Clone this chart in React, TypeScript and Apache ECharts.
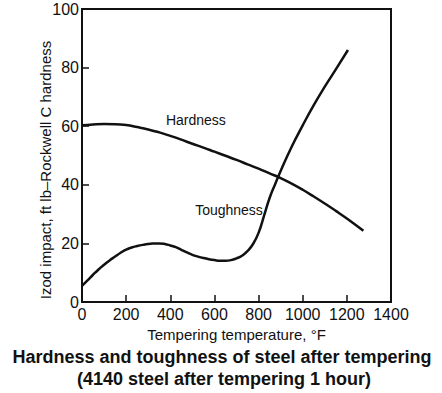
import React, { useEffect, useRef } from "react";
import * as echarts from "echarts";

const xTicks = [0, 200, 400, 600, 800, 1000, 1200, 1400];
const yTicks = [0, 20, 40, 60, 80, 100];

const hardnessTemp = [0, 50, 100, 150, 200, 250, 300, 350, 400, 450, 500, 550, 600, 650, 700, 750, 800, 850, 900, 950, 1000, 1050, 1100, 1150, 1200, 1275];
const hardnessVal = [60.3, 60.6, 60.75, 60.7, 60.4, 59.7, 58.9, 57.9, 56.7, 55.4, 54.0, 52.7, 51.3, 49.9, 48.5, 47.0, 45.5, 43.9, 42.3, 40.4, 38.3, 36.0, 33.6, 31.1, 28.5, 24.3];

const toughTemp = [0, 25, 50, 75, 100, 125, 150, 175, 200, 225, 250, 275, 300, 325, 350, 375, 400, 425, 450, 475, 500, 525, 550, 575, 600, 625, 650, 675, 700, 725, 750, 775, 800, 825, 850, 875, 900, 950, 1000, 1050, 1100, 1150, 1205];
const toughVal = [5.5, 7.4, 9.3, 11.1, 12.7, 14.2, 15.5, 16.8, 17.9, 18.6, 19.1, 19.5, 19.8, 19.95, 20.0, 19.8, 19.3, 18.7, 17.8, 16.9, 16.1, 15.5, 15.0, 14.6, 14.3, 14.1, 14.1, 14.3, 14.9, 15.8, 17.4, 19.8, 23.6, 29.5, 35.5, 40.2, 44.7, 53.0, 60.3, 67.2, 73.5, 79.4, 86.0];

const hardnessLabel = { text: "Hardness", temp: 516, val: 62.1 };
const toughLabel = { text: "Toughness", temp: 666, val: 31.4 };

const xName = "Tempering temperature, °F";
const yName = "Izod impact, ft lb\u2013Rockwell C hardness";
const title1 = "Hardness and toughness of steel after tempering";
const title2 = "(4140 steel after tempering 1 hour)";

const FONT = "Liberation Sans, Arial, sans-serif";

export default function App() {
  const ref = useRef<HTMLDivElement>(null);
  useEffect(() => {
    if (!ref.current) return;
    const chart = echarts.init(ref.current, undefined, { renderer: "svg" });
    const labelPoint = (l: { text: string; temp: number; val: number }) => ({
      coord: [l.temp, l.val],
      symbol: "circle",
      symbolSize: 0,
      label: {
        show: true,
        position: "inside",
        formatter: l.text,
        color: "#111",
        fontSize: 14,
        fontFamily: FONT,
      },
    });
    chart.setOption({
      animation: false,
      backgroundColor: "#fff",
      grid: {
        left: 82,
        right: 51,
        top: 9,
        bottom: 91,
        show: true,
        borderColor: "#111",
        borderWidth: 2,
        backgroundColor: "transparent",
      },
      xAxis: {
        type: "value",
        min: xTicks[0],
        max: xTicks[xTicks.length - 1],
        interval: 200,
        name: xName,
        nameLocation: "middle",
        nameGap: 24,
        nameTextStyle: { color: "#111", fontSize: 15, fontFamily: FONT },
        axisLine: { show: true, lineStyle: { color: "#111", width: 2 } },
        axisTick: { show: true, inside: true, length: 7, lineStyle: { color: "#111", width: 1.5 } },
        axisLabel: { color: "#111", fontSize: 16, fontFamily: FONT, margin: 4, formatter: (v: number) => String(v) },
        splitLine: { show: false },
      },
      yAxis: {
        type: "value",
        min: yTicks[0],
        max: yTicks[yTicks.length - 1],
        interval: 20,
        axisLine: { show: true, lineStyle: { color: "#111", width: 2 } },
        axisTick: { show: true, inside: true, length: 7, lineStyle: { color: "#111", width: 1.5 } },
        axisLabel: { color: "#111", fontSize: 16, fontFamily: FONT, margin: 3, formatter: (v: number) => String(v) },
        splitLine: { show: false },
      },
      series: [
        {
          type: "line",
          name: "Hardness",
          data: hardnessTemp.map((t, i) => [t, hardnessVal[i]]),
          smooth: true,
          showSymbol: false,
          symbol: "none",
          lineStyle: { color: "#111", width: 2.5 },
          markPoint: { data: [labelPoint(hardnessLabel)] },
        },
        {
          type: "line",
          name: "Toughness",
          data: toughTemp.map((t, i) => [t, toughVal[i]]),
          smooth: true,
          showSymbol: false,
          symbol: "none",
          lineStyle: { color: "#111", width: 2.5 },
          markPoint: { data: [labelPoint(toughLabel)] },
        },
      ],
      graphic: [
        {
          type: "text",
          x: 45,
          y: 170,
          rotation: Math.PI / 2,
          style: {
            text: yName,
            fill: "#111",
            fontSize: 15,
            fontFamily: FONT,
            align: "center",
            verticalAlign: "middle",
          },
        },
        {
          type: "text",
          x: 222,
          y: 357,
          style: {
            text: title1,
            fill: "#111",
            fontSize: 18,
            fontWeight: "bold",
            fontFamily: FONT,
            align: "center",
            verticalAlign: "middle",
          },
        },
        {
          type: "text",
          x: 224,
          y: 379,
          style: {
            text: title2,
            fill: "#111",
            fontSize: 18,
            fontWeight: "bold",
            fontFamily: FONT,
            align: "center",
            verticalAlign: "middle",
          },
        },
      ],
    });
    return () => chart.dispose();
  }, []);
  return <div ref={ref} style={{ width: 442, height: 393, position: "absolute", left: 0, top: 0 }} />;
}
